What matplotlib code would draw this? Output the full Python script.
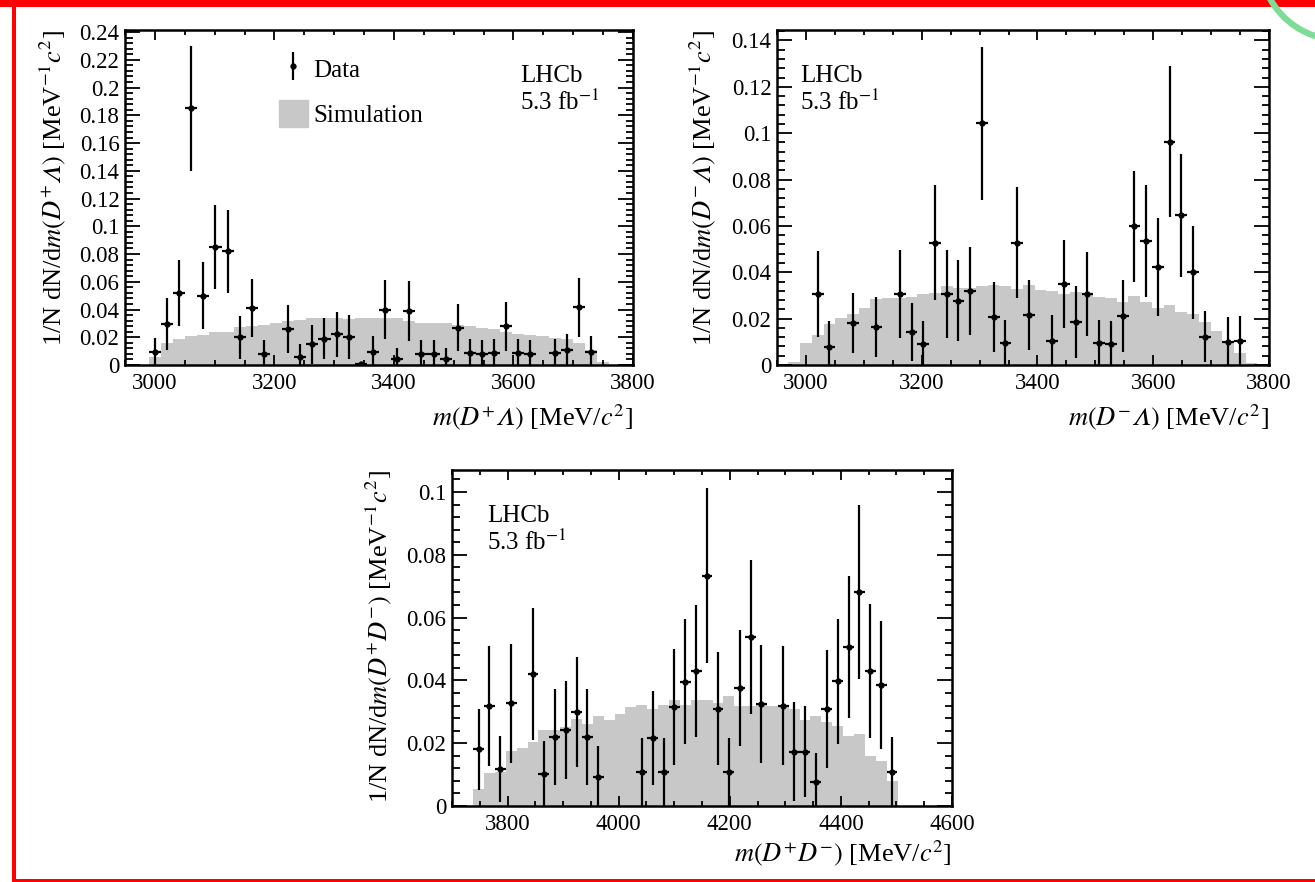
import numpy as np
import matplotlib
matplotlib.use("Agg")
import matplotlib.pyplot as plt
from matplotlib.ticker import MultipleLocator, FuncFormatter
from matplotlib.lines import Line2D
from matplotlib.patches import Patch, Rectangle, Arc

plt.rcParams['font.family'] = ['Liberation Serif', 'DejaVu Serif']
plt.rcParams['mathtext.fontset'] = 'stix'

# ---- m(D+ Lambda) ----
dpl_x = [3000.1, 3020.4, 3040.7, 3060.9, 3081.2, 3101.4, 3121.7, 3142.0, 3162.2, 3182.5,
         3223.0, 3243.3, 3263.5, 3283.8, 3304.1, 3324.3, 3344.6, 3364.9, 3385.1, 3405.4,
         3425.6, 3445.9, 3466.2, 3486.4, 3506.7, 3526.9, 3547.2, 3567.5, 3587.7, 3608.0,
         3628.3, 3668.8, 3689.1, 3709.3, 3729.6]
dpl_y = [0.0096, 0.0295, 0.052, 0.185, 0.050, 0.085, 0.082, 0.020, 0.041, 0.008,
         0.026, 0.006, 0.015, 0.019, 0.022, 0.020, 0.0008, 0.0096, 0.040, 0.0043,
         0.039, 0.0077, 0.0077, 0.004, 0.027, 0.0084, 0.008, 0.009, 0.028, 0.0084,
         0.0077, 0.009, 0.011, 0.0415, 0.0096]
dpl_err = [0.010, 0.019, 0.024, 0.045, 0.024, 0.030, 0.030, 0.0155, 0.021, 0.010,
           0.017, 0.009, 0.014, 0.015, 0.016, 0.016, 0.001, 0.011, 0.0215, 0.008,
           0.0215, 0.010, 0.010, 0.008, 0.017, 0.010, 0.010, 0.010, 0.0177, 0.010,
           0.010, 0.010, 0.011, 0.021, 0.011]
dpl_sim = [0.006, 0.0156, 0.019, 0.021, 0.0216, 0.0235, 0.024, 0.0276, 0.0283, 0.0288,
           0.030, 0.0317, 0.0324, 0.0336, 0.0336, 0.0336, 0.0331, 0.034, 0.0336, 0.034,
           0.0336, 0.032, 0.0305, 0.030, 0.030, 0.0288, 0.0283, 0.0264, 0.026, 0.024,
           0.022, 0.0216, 0.021, 0.0197, 0.0187, 0.0156, 0.0108, 0.0024]
dpl_edges = np.linspace(2990, 3760, len(dpl_sim) + 1)

# ---- m(D- Lambda) ----
dml_x = [3020.4, 3040.7, 3081.2, 3121.7, 3162.2, 3182.5, 3202.7, 3223.0, 3243.3, 3263.5,
         3283.8, 3304.1, 3324.3, 3344.6, 3364.9, 3385.1, 3425.6, 3445.9, 3466.2, 3486.4,
         3506.7, 3526.9, 3547.2, 3567.5, 3587.7, 3608.0, 3628.3, 3648.5, 3668.8, 3689.1,
         3729.6, 3749.9]
dml_y = [0.0306, 0.0079, 0.0182, 0.0165, 0.0308, 0.0143, 0.009, 0.0528, 0.0308, 0.0277,
         0.032, 0.1043, 0.0208, 0.0096, 0.0528, 0.0215, 0.0105, 0.0351, 0.0186, 0.0306,
         0.0096, 0.0089, 0.0211, 0.0598, 0.0535, 0.0423, 0.0964, 0.0645, 0.0399, 0.0122,
         0.010, 0.0105]
dml_err = [0.0186, 0.011, 0.013, 0.013, 0.019, 0.0125, 0.010, 0.0247, 0.019, 0.0175,
           0.019, 0.033, 0.015, 0.010, 0.0238, 0.015, 0.011, 0.019, 0.0154, 0.018,
           0.010, 0.010, 0.0155, 0.024, 0.0243, 0.021, 0.0327, 0.0265, 0.020, 0.011,
           0.0105, 0.0108]
dml_sim = [0.0014, 0.0096, 0.0129, 0.0179, 0.0201, 0.0222, 0.0244, 0.0283, 0.0291, 0.0291,
           0.0294, 0.0306, 0.0311, 0.034, 0.033, 0.0334, 0.0341, 0.0347, 0.0341, 0.0326,
           0.0347, 0.0323, 0.032, 0.0308, 0.0316, 0.0306, 0.0294, 0.0287, 0.0273, 0.0297,
           0.0273, 0.0244, 0.0258, 0.023, 0.022, 0.0186, 0.0148, 0.010, 0.005, 0.001]
dml_edges = np.linspace(2969.7, 3780.1, len(dml_sim) + 1)

# ---- m(D+ D-) ----
dd_x = [3747.8, 3767.4, 3787.0, 3806.6, 3845.7, 3865.3, 3884.9, 3904.5, 3924.1, 3943.7,
        3963.2, 4041.6, 4061.2, 4080.8, 4100.4, 4119.9, 4139.5, 4159.1, 4178.7, 4198.3,
        4217.8, 4237.4, 4257.0, 4296.2, 4315.8, 4335.3, 4354.9, 4374.5, 4394.1, 4413.7,
        4433.3, 4452.8, 4472.4, 4492.0]
dd_y = [0.018, 0.0318, 0.0118, 0.0327, 0.0421, 0.0102, 0.0219, 0.0242, 0.0299, 0.0219,
        0.0091, 0.0107, 0.0216, 0.0107, 0.0315, 0.0396, 0.0429, 0.0734, 0.0309, 0.0107,
        0.0376, 0.0538, 0.0325, 0.032, 0.0173, 0.0173, 0.0078, 0.0309, 0.0397, 0.0506,
        0.0681, 0.0429, 0.0386, 0.0109]
dd_err = [0.013, 0.019, 0.0105, 0.019, 0.021, 0.0105, 0.0152, 0.0155, 0.0175, 0.0152,
          0.010, 0.011, 0.015, 0.011, 0.0185, 0.020, 0.021, 0.028, 0.018, 0.011,
          0.0185, 0.0245, 0.0188, 0.0188, 0.0157, 0.0145, 0.009, 0.0188, 0.020, 0.0225,
          0.0277, 0.0214, 0.0203, 0.011]
dd_sim = [0.0054, 0.0104, 0.0107, 0.0176, 0.0185, 0.0203, 0.0242, 0.0242, 0.0251, 0.0277,
          0.0261, 0.0288, 0.0274, 0.0293, 0.0315, 0.0322, 0.0309, 0.0322, 0.0336, 0.0322,
          0.0339, 0.0336, 0.0327, 0.035, 0.032, 0.0318, 0.0325, 0.032, 0.0318, 0.0309,
          0.0274, 0.0288, 0.0267, 0.0256, 0.0224, 0.023, 0.016, 0.0142, 0.0079]
dd_edges = np.linspace(3738, 4502, len(dd_sim) + 1)

SIM_COLOR = '#c8c8c8'
LBL = 19
TXT = 18
TCK = 16.5
LAM = '\\mathrm{\U0001D6EC}'  # italic capital Lambda


def yfmt(v, pos):
    return f'{round(v, 4):g}'


def draw_panel(ax, x, y, err, sim, edges, xlim, ylim):
    ax.stairs(sim, edges, fill=True, color=SIM_COLOR, lw=0, zorder=1)
    half = (edges[1] - edges[0]) / 2
    ax.errorbar(x, y, yerr=err, xerr=half, fmt='o', ms=3.5, color='k',
                elinewidth=1.6, capsize=0, zorder=3)
    ax.set_xlim(*xlim)
    ax.set_ylim(*ylim)
    ax.xaxis.set_major_locator(MultipleLocator(200))
    ax.xaxis.set_minor_locator(MultipleLocator(50))
    ax.yaxis.set_major_locator(MultipleLocator(0.02))
    ax.yaxis.set_minor_locator(MultipleLocator(0.004))
    ax.yaxis.set_major_formatter(FuncFormatter(yfmt))
    ax.tick_params(which='both', direction='in', top=True, right=True,
                   labelsize=TCK, width=1.3)
    ax.tick_params(axis='x', which='major', length=7.2, pad=6)
    ax.tick_params(axis='x', which='minor', length=3.6)
    ax.tick_params(axis='y', which='major', length=10.8, pad=4)
    ax.tick_params(axis='y', which='minor', length=5.4)
    for s in ax.spines.values():
        s.set_linewidth(1.8)
        s.set_zorder(5)


fig = plt.figure(figsize=(13.15, 8.82), dpi=100)
W, H = 1315, 882
ax1 = fig.add_axes([125 / W, 1 - 365 / H, 508 / W, 335 / H])
ax2 = fig.add_axes([777 / W, 1 - 365 / H, 492 / W, 335 / H])
ax3 = fig.add_axes([452 / W, 1 - 806 / H, 500 / W, 336 / H])

draw_panel(ax1, dpl_x, dpl_y, dpl_err, dpl_sim, dpl_edges, (2950, 3800), (0, 0.2415))
draw_panel(ax2, dml_x, dml_y, dml_err, dml_sim, dml_edges, (2950, 3800), (0, 0.1445))
draw_panel(ax3, dd_x, dd_y, dd_err, dd_sim, dd_edges, (3700, 4600), (0, 0.107))

ax1.set_xlabel(r'$m(D^{+}' + LAM + r')$ [MeV/$c^{2}$]', fontsize=LBL, loc='right')
ax1.set_ylabel(r'1/N dN/d$m(D^{+}' + LAM + r')$ [MeV$^{-1}c^{2}$]', fontsize=LBL, loc='top')
ax2.set_xlabel(r'$m(D^{-}' + LAM + r')$ [MeV/$c^{2}$]', fontsize=LBL, loc='right')
ax2.set_ylabel(r'1/N dN/d$m(D^{-}' + LAM + r')$ [MeV$^{-1}c^{2}$]', fontsize=LBL, loc='top')
ax3.set_xlabel(r'$m(D^{+}D^{-})$ [MeV/$c^{2}$]', fontsize=LBL, loc='right')
ax3.set_ylabel(r'1/N dN/d$m(D^{+}D^{-})$ [MeV$^{-1}c^{2}$]', fontsize=LBL, loc='top')

ax1.xaxis.set_label_coords(1.0, -0.11)
ax2.xaxis.set_label_coords(1.0, -0.11)
ax3.xaxis.set_label_coords(1.0, -0.095)
ax1.yaxis.set_label_coords(-0.112, 1.0)
ax2.yaxis.set_label_coords(-0.12, 1.0)
ax3.yaxis.set_label_coords(-0.116, 1.0)

lhcb = 'LHCb\n5.3 fb$^{-1}$'
ax1.text(0.778, 0.895, lhcb, transform=ax1.transAxes, va='top', ha='left',
         fontsize=TXT, linespacing=1.1)
ax2.text(0.047, 0.895, lhcb, transform=ax2.transAxes, va='top', ha='left',
         fontsize=TXT, linespacing=1.1)
ax3.text(0.07, 0.895, lhcb, transform=ax3.transAxes, va='top', ha='left',
         fontsize=TXT, linespacing=1.1)

data_handle = (Line2D([], [], color='k', marker='|', ms=20, mew=1.6, ls='none'),
               Line2D([], [], color='k', marker='o', ms=3.5, ls='none'))
sim_handle = Patch(color=SIM_COLOR)
ax1.legend([data_handle, sim_handle], ['Data', 'Simulation'], loc='upper left',
           bbox_to_anchor=(0.303, 0.925), frameon=False, fontsize=TXT,
           handlelength=1.16, handleheight=1.24, handletextpad=0.2,
           labelspacing=0.75, borderpad=0, borderaxespad=0)

# page frame (red) and corner mark
fig.add_artist(Rectangle((0, 1 - 7 / H), 1, 7 / H, transform=fig.transFigure,
                         color='red', lw=0))
fig.add_artist(Rectangle((12 / W, 0), 3.5 / W, 1, transform=fig.transFigure,
                         color='red', lw=0))
fig.add_artist(Rectangle((12 / W, 0), 1, 3 / H, transform=fig.transFigure,
                         color='red', lw=0))
fig.add_artist(Arc((1340 / W, 1 + 40 / H), 160 / W, 160 / H, theta1=200, theta2=275,
                   transform=fig.transFigure, color='#7ddc95', lw=4.5))

fig.savefig('out.png', dpi=100)
